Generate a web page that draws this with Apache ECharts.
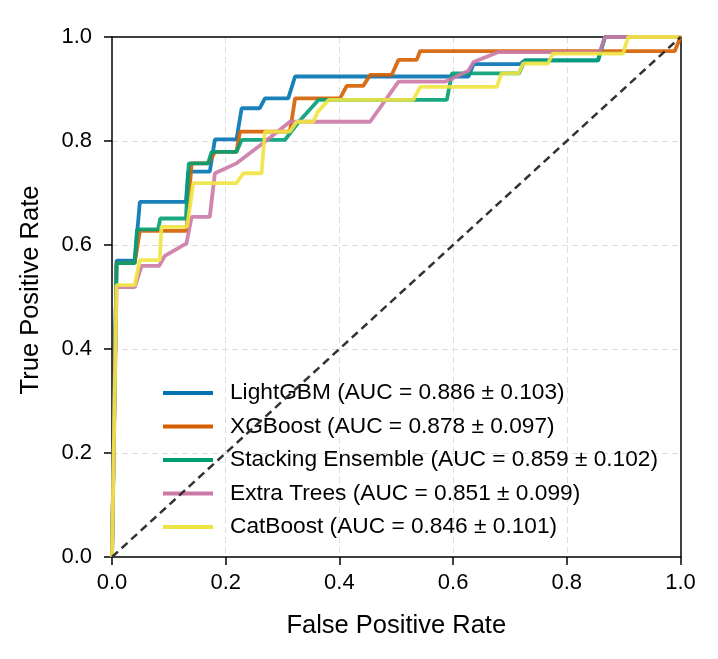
<!DOCTYPE html>
<html>
<head>
<meta charset="utf-8">
<script src="https://cdn.jsdelivr.net/npm/echarts@6/dist/echarts.min.js"></script>
<style>
html,body{margin:0;padding:0;background:#fff;}
#chart{width:718px;height:659px;}
</style>
</head>
<body>
<div id="chart"></div>
<script>
const modelNames = [
  'LightGBM (AUC = 0.886 ± 0.103)',
  'XGBoost (AUC = 0.878 ± 0.097)',
  'Stacking Ensemble (AUC = 0.859 ± 0.102)',
  'Extra Trees (AUC = 0.851 ± 0.099)',
  'CatBoost (AUC = 0.846 ± 0.101)'
];
const modelColors = ['#0072B2', '#D55E00', '#009E73', '#CC79A7', '#F0E442'];
const axisTicks = [0.0, 0.2, 0.4, 0.6, 0.8, 1.0];

const lightgbmFpr = [0, 0.008, 0.040, 0.049, 0.130, 0.134, 0.172, 0.181, 0.219, 0.228, 0.260, 0.269, 0.310, 0.322, 0.627, 0.636, 0.718, 0.726, 0.855, 0.867, 1.0];
const lightgbmTpr = [0, 0.570, 0.570, 0.683, 0.683, 0.741, 0.741, 0.803, 0.803, 0.863, 0.863, 0.882, 0.882, 0.924, 0.924, 0.948, 0.948, 0.955, 0.955, 1.0, 1.0];

const xgboostFpr = [0, 0.008, 0.040, 0.049, 0.131, 0.140, 0.169, 0.181, 0.219, 0.225, 0.313, 0.322, 0.401, 0.413, 0.442, 0.454, 0.492, 0.504, 0.536, 0.542, 0.990, 1.0];
const xgboostTpr = [0, 0.565, 0.565, 0.627, 0.627, 0.757, 0.757, 0.779, 0.779, 0.818, 0.818, 0.882, 0.882, 0.906, 0.906, 0.927, 0.927, 0.956, 0.956, 0.973, 0.973, 1.0];

const stackingFpr = [0, 0.008, 0.040, 0.044, 0.081, 0.085, 0.130, 0.135, 0.169, 0.175, 0.219, 0.228, 0.304, 0.331, 0.363, 0.589, 0.598, 0.716, 0.726, 0.855, 0.867, 1.0];
const stackingTpr = [0, 0.565, 0.565, 0.630, 0.630, 0.651, 0.651, 0.757, 0.757, 0.779, 0.779, 0.802, 0.802, 0.840, 0.879, 0.879, 0.930, 0.930, 0.955, 0.955, 1.0, 1.0];

const extraTreesFpr = [0, 0.008, 0.040, 0.052, 0.083, 0.093, 0.131, 0.140, 0.172, 0.181, 0.219, 0.266, 0.313, 0.454, 0.504, 0.586, 0.627, 0.636, 0.680, 0.858, 0.867, 1.0];
const extraTreesTpr = [0, 0.519, 0.519, 0.560, 0.560, 0.579, 0.603, 0.654, 0.654, 0.738, 0.757, 0.796, 0.837, 0.837, 0.914, 0.914, 0.935, 0.952, 0.971, 0.971, 1.0, 1.0];

const catboostFpr = [0, 0.008, 0.040, 0.049, 0.084, 0.087, 0.132, 0.143, 0.219, 0.231, 0.263, 0.269, 0.313, 0.325, 0.354, 0.362, 0.381, 0.530, 0.542, 0.677, 0.685, 0.715, 0.723, 0.767, 0.775, 0.899, 0.908, 1.0];
const catboostTpr = [0, 0.523, 0.523, 0.571, 0.571, 0.635, 0.635, 0.719, 0.719, 0.738, 0.738, 0.818, 0.818, 0.837, 0.837, 0.856, 0.879, 0.879, 0.904, 0.904, 0.930, 0.930, 0.949, 0.949, 0.968, 0.968, 1.0, 1.0];

const chanceFpr = [0, 1];
const chanceTpr = [0, 1];

const curveFpr = [lightgbmFpr, xgboostFpr, stackingFpr, extraTreesFpr, catboostFpr];
const curveTpr = [lightgbmTpr, xgboostTpr, stackingTpr, extraTreesTpr, catboostTpr];

function pairs(xs, ys) { return xs.map((x, i) => [x, ys[i]]); }

const FONT = '"Liberation Sans", Arial, Helvetica, sans-serif';
const chart = echarts.init(document.getElementById('chart'), null, {renderer: 'canvas'});

const series = modelNames.map((name, i) => ({
  name: name,
  type: 'line',
  data: pairs(curveFpr[i], curveTpr[i]),
  showSymbol: false,
  symbol: 'none',
  lineStyle: {color: modelColors[i], width: 3.8, opacity: 0.9},
  itemStyle: {color: modelColors[i]},
  z: 3 + i,
  animation: false
}));
series.push({
  name: 'chance',
  type: 'line',
  data: pairs(chanceFpr, chanceTpr),
  showSymbol: false,
  symbol: 'none',
  lineStyle: {color: '#333', width: 2.5, type: [8, 5]},
  z: 10,
  animation: false
});

const axisCommon = {
  type: 'value',
  min: 0, max: 1, interval: 0.2,
  axisLine: {show: true, onZero: false, lineStyle: {color: '#000', width: 1.5}},
  axisTick: {show: true, inside: false, length: 8, lineStyle: {color: '#000', width: 1.5}},
  splitLine: {show: true, showMinLine: false, showMaxLine: false, lineStyle: {color: '#dddddd', width: 1, type: [6, 4]}},
  axisLabel: {
    color: '#000', fontSize: 22, fontFamily: FONT,
    formatter: v => axisTicks.find(t => Math.abs(t - v) < 1e-9) !== undefined ? v.toFixed(1) : ''
  },
  nameLocation: 'middle',
  nameTextStyle: {color: '#000', fontSize: 25.5, fontFamily: FONT}
};

const frameAxis = {
  type: 'value', min: 0, max: 1, interval: 0.2,
  axisLine: {show: true, onZero: false, lineStyle: {color: '#000', width: 1.5}},
  axisTick: {show: false}, axisLabel: {show: false}, splitLine: {show: false}
};

chart.setOption({
  animation: false,
  backgroundColor: '#fff',
  grid: {left: 112, top: 37, right: 37.5, bottom: 102, containLabel: false},
  xAxis: [
    Object.assign({}, axisCommon, {
      name: 'False Positive Rate', nameGap: 56,
      axisLabel: Object.assign({}, axisCommon.axisLabel, {margin: 15})
    }),
    Object.assign({}, frameAxis, {position: 'top'})
  ],
  yAxis: [
    Object.assign({}, axisCommon, {
      name: 'True Positive Rate', nameGap: 68,
      nameTextStyle: Object.assign({}, axisCommon.nameTextStyle, {padding: [0, 0, 0, 14]}),
      axisLabel: Object.assign({}, axisCommon.axisLabel, {margin: 20})
    }),
    Object.assign({}, frameAxis, {position: 'right'})
  ],
  legend: {
    data: modelNames,
    orient: 'vertical',
    left: 158, top: 376.5,
    itemWidth: 50, itemHeight: 4,
    itemGap: 10.5,
    icon: 'rect',
    textStyle: {color: '#000', fontSize: 22.7, fontFamily: FONT, padding: [0, 0, 0, 12]},
    selectedMode: false
  },
  series: series
});
</script>
</body>
</html>
